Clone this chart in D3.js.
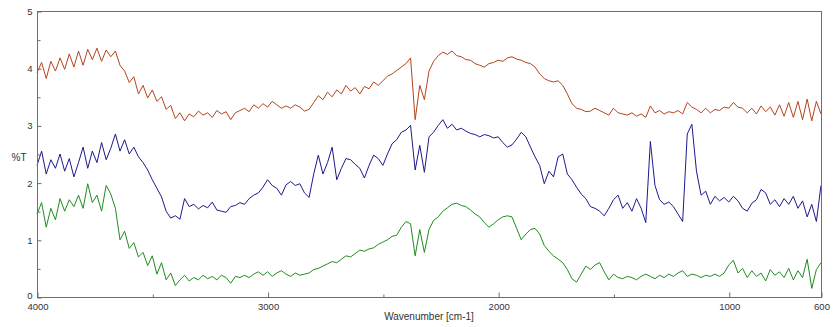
<!DOCTYPE html>
<html>
<head>
<meta charset="utf-8">
<script src="https://cdn.jsdelivr.net/npm/d3@7"></script>
<style>
  html, body { margin: 0; padding: 0; background: #fff; }
  svg { display: block; font-family: "Liberation Sans", Arial, sans-serif; }
</style>
</head>
<body>
<svg id="chart" width="833" height="327"></svg>
<script>
// Wavenumber grid, cm-1 (4000 down to 600 in 20 cm-1 steps)
const waveStart = 4000, waveEnd = 600, waveStep = 20;
const wavenumbers = d3.range(waveStart, waveEnd - 1, -waveStep);

// %T values, one row per 200 cm-1
const traceTop = [
  3.92,4.10,3.82,4.12,3.95,4.18,3.98,4.25,4.02,4.30,  // 4000
  4.05,4.33,4.15,4.35,4.12,4.32,4.20,4.30,4.05,3.95,  // 3800
  3.75,3.85,3.55,3.70,3.48,3.62,3.42,3.50,3.28,3.35,  // 3600
  3.12,3.22,3.08,3.20,3.15,3.25,3.18,3.22,3.14,3.26,  // 3400
  3.20,3.24,3.10,3.22,3.26,3.30,3.24,3.36,3.30,3.38,  // 3200
  3.32,3.42,3.36,3.30,3.34,3.30,3.36,3.32,3.25,3.28,  // 3000
  3.40,3.52,3.45,3.58,3.50,3.62,3.55,3.70,3.60,3.66,  // 2800
  3.55,3.68,3.64,3.76,3.70,3.78,3.86,3.90,3.96,4.02,  // 2600
  4.08,4.18,3.10,3.70,3.45,3.95,4.12,4.22,4.28,4.24,  // 2400
  4.30,4.22,4.20,4.15,4.14,4.08,4.05,4.02,4.08,4.10,  // 2200
  4.14,4.12,4.18,4.20,4.16,4.14,4.10,4.08,4.02,3.90,  // 2000
  3.82,3.78,3.76,3.78,3.70,3.55,3.38,3.30,3.28,3.24,  // 1800
  3.25,3.30,3.26,3.22,3.18,3.30,3.22,3.20,3.18,3.22,  // 1600
  3.16,3.20,3.14,3.34,3.22,3.26,3.20,3.24,3.22,3.26,  // 1400
  3.20,3.40,3.32,3.28,3.22,3.30,3.22,3.28,3.26,3.32,  // 1200
  3.30,3.40,3.32,3.30,3.22,3.30,3.20,3.34,3.24,3.32,  // 1000
  3.18,3.36,3.16,3.40,3.14,3.42,3.10,3.46,3.08,3.42,  // 800
  3.20                                                // 600
];

const traceMiddle = [
  2.30,2.55,2.15,2.40,2.25,2.50,2.20,2.42,2.10,2.35,  // 4000
  2.62,2.25,2.55,2.35,2.70,2.40,2.60,2.85,2.55,2.75,  // 3800
  2.50,2.62,2.45,2.35,2.22,2.05,1.90,1.75,1.50,1.38,  // 3600
  1.42,1.36,1.72,1.58,1.62,1.54,1.60,1.56,1.66,1.52,  // 3400
  1.50,1.48,1.58,1.60,1.65,1.62,1.72,1.78,1.82,1.92,  // 3200
  2.05,1.95,1.90,1.78,1.96,2.02,1.95,1.98,1.82,1.74,  // 3000
  2.15,2.48,2.15,2.35,2.62,2.05,2.25,2.42,2.40,2.32,  // 2800
  2.25,2.08,2.30,2.48,2.42,2.30,2.50,2.68,2.75,2.88,  // 2600
  2.92,3.00,2.22,2.65,2.18,2.80,2.88,3.00,3.10,2.95,  // 2400
  3.02,2.92,2.95,2.90,2.86,2.84,2.80,2.84,2.82,2.78,  // 2200
  2.80,2.70,2.62,2.66,2.76,2.88,2.80,2.62,2.45,2.30,  // 2000
  1.98,2.20,2.10,2.45,2.50,2.15,2.05,1.92,1.80,1.72,  // 1800
  1.58,1.55,1.50,1.42,1.55,1.70,1.78,1.55,1.65,1.50,  // 1600
  1.72,1.55,1.30,2.72,1.95,1.70,1.62,1.66,1.58,1.45,  // 1400
  1.32,2.85,3.02,2.20,1.78,1.85,1.62,1.76,1.68,1.74,  // 1200
  1.66,1.76,1.68,1.55,1.50,1.64,1.70,1.88,1.82,1.62,  // 1000
  1.70,1.58,1.72,1.62,1.76,1.55,1.68,1.40,1.62,1.32,  // 800
  1.95                                                // 600
];

const traceBottom = [
  1.45,1.65,1.22,1.55,1.35,1.72,1.50,1.70,1.58,1.78,  // 4000
  1.55,1.98,1.65,1.78,1.50,1.95,1.80,1.55,1.00,1.15,  // 3800
  0.85,0.95,0.70,0.78,0.55,0.72,0.40,0.60,0.30,0.42,  // 3600
  0.20,0.30,0.38,0.28,0.34,0.30,0.38,0.32,0.36,0.30,  // 3400
  0.38,0.34,0.24,0.36,0.34,0.38,0.34,0.40,0.44,0.38,  // 3200
  0.44,0.36,0.42,0.46,0.40,0.36,0.42,0.38,0.40,0.42,  // 3000
  0.48,0.50,0.54,0.58,0.62,0.60,0.66,0.72,0.70,0.76,  // 2800
  0.82,0.80,0.84,0.86,0.92,0.96,1.00,1.06,1.08,1.22,  // 2600
  1.32,1.28,0.72,1.18,0.78,1.18,1.34,1.40,1.50,1.56,  // 2400
  1.62,1.64,1.60,1.58,1.52,1.45,1.40,1.30,1.22,1.28,  // 2200
  1.35,1.40,1.42,1.40,1.20,1.00,1.10,1.18,1.20,1.10,  // 2000
  0.90,0.80,0.72,0.66,0.60,0.48,0.32,0.26,0.40,0.54,  // 1800
  0.48,0.56,0.60,0.44,0.30,0.40,0.34,0.32,0.36,0.34,  // 1600
  0.30,0.36,0.40,0.36,0.32,0.38,0.34,0.40,0.36,0.42,  // 1400
  0.46,0.36,0.40,0.38,0.34,0.38,0.36,0.40,0.36,0.42,  // 1200
  0.56,0.64,0.42,0.50,0.34,0.46,0.36,0.42,0.28,0.48,  // 1000
  0.38,0.44,0.34,0.50,0.30,0.46,0.34,0.66,0.15,0.48,  // 800
  0.60                                                // 600
];

const seriesColors = ["#b4441c", "#1a1a8e", "#1f8c1f"];
const xTickLabels = [4000, 3000, 2000, 1000, 600];
const xMinorTicks = [3500, 2500, 1500];
const yTickLabels = [0, 1, 2, 3, 4, 5];
const yMinorTicks = [0.5, 1.5, 2.5, 3.5, 4.5];
const xTitle = "Wavenumber [cm-1]";
const yTitle = "%T";

const svg = d3.select("#chart");
const width = 833, height = 327;
const margin = { top: 11, right: 12, bottom: 30, left: 37 };
const plotW = width - margin.left - margin.right;
const plotH = height - margin.top - margin.bottom;

const x = d3.scaleLinear().domain([waveStart, waveEnd]).range([margin.left, margin.left + plotW]);
const y = d3.scaleLinear().domain([0, 5]).range([margin.top + plotH, margin.top]);

const axisColor = "#6e6e6e";
const textColor = "#333";

// spectra
const series = [traceTop, traceMiddle, traceBottom];
const line = d3.line()
  .x((d, i) => x(wavenumbers[i]))
  .y(d => y(d));

svg.append("g")
  .selectAll("path")
  .data(series)
  .join("path")
  .attr("d", d => line(d.slice(0, wavenumbers.length)))
  .attr("fill", "none")
  .attr("stroke", (d, i) => seriesColors[i])
  .attr("stroke-width", 1)
  .attr("stroke-linejoin", "round");

// frame
svg.append("rect")
  .attr("x", margin.left + 0.5)
  .attr("y", margin.top + 0.5)
  .attr("width", plotW)
  .attr("height", plotH)
  .attr("fill", "none")
  .attr("stroke", axisColor)
  .attr("stroke-width", 1);

function styleAxis(g, size) {
  g.select(".domain").remove();
  g.selectAll("line").attr("stroke", axisColor);
  g.selectAll("text").attr("fill", textColor).attr("font-size", size);
}

// x axis
svg.append("g")
  .attr("transform", `translate(0.5,${margin.top + plotH + 0.5})`)
  .call(d3.axisBottom(x).tickValues(xTickLabels).tickFormat(d3.format("d"))
    .tickSizeInner(-5).tickSizeOuter(0).tickPadding(6))
  .call(styleAxis, 9.5);

svg.append("g")
  .attr("transform", `translate(0.5,${margin.top + plotH + 0.5})`)
  .call(d3.axisBottom(x).tickValues(xMinorTicks).tickFormat("")
    .tickSizeInner(-3).tickSizeOuter(0))
  .call(styleAxis, 9.5);

// y axis
svg.append("g")
  .attr("transform", `translate(${margin.left + 0.5},0.5)`)
  .call(d3.axisLeft(y).tickValues(yTickLabels).tickFormat(d3.format("d"))
    .tickSizeInner(-4).tickSizeOuter(0).tickPadding(5))
  .call(styleAxis, 9.5);

// lift the zero label clear of the first wavenumber label
svg.selectAll("text").filter(function () { return this.textContent === "0"; })
  .attr("dy", "0.1em");

svg.append("g")
  .attr("transform", `translate(${margin.left + 0.5},0.5)`)
  .call(d3.axisLeft(y).tickValues(yMinorTicks).tickFormat("")
    .tickSizeInner(-3).tickSizeOuter(0))
  .call(styleAxis, 9.5);

// titles
svg.append("text")
  .attr("x", margin.left + plotW / 2)
  .attr("y", 320)
  .attr("text-anchor", "middle")
  .attr("font-size", 10)
  .attr("fill", textColor)
  .text(xTitle);

svg.append("text")
  .attr("x", 19)
  .attr("y", 161)
  .attr("text-anchor", "middle")
  .attr("font-size", 10)
  .attr("fill", textColor)
  .text(yTitle);
</script>
</body>
</html>
